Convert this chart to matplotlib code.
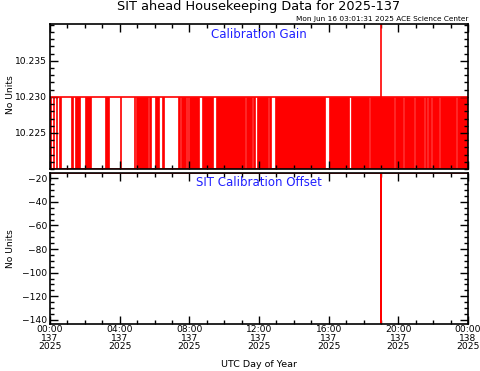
import matplotlib
matplotlib.use("Agg")
import matplotlib.pyplot as plt
from matplotlib.ticker import MultipleLocator

plt.rcParams['font.family'] = ['DejaVu Sans']

# gain toggles between these two levels inside the red spans (hours UTC)
gain_hi = 10.230
gain_lo = 10.220
red_spans = [
    (0.00, 0.06), (0.17, 0.23), (0.34, 0.40), (0.52, 0.61), (1.22, 1.32),
    (1.42, 1.71), (1.99, 2.34), (3.18, 3.37), (4.00, 4.09), (4.82, 4.90),
    (4.96, 5.63), (5.67, 5.82), (6.01, 6.26), (6.45, 6.56), (7.37, 7.46),
    (7.52, 7.79), (7.85, 7.94), (8.00, 8.57), (8.71, 9.38), (9.51, 11.20),
    (11.24, 11.58), (11.64, 11.77), (11.87, 12.51), (12.59, 12.71),
    (12.90, 15.81), (16.00, 17.19), (17.30, 18.34), (18.40, 19.77),
    (19.82, 20.25), (20.30, 20.92), (20.97, 21.49), (21.54, 21.64),
    (21.69, 21.87), (21.92, 22.36), (22.41, 23.31), (23.36, 24.00),
]
spike_time = 18.98
spike_gain = 10.30
offset_level = -15.5
spike_offset = -200.0

tick_hours = [0, 4, 8, 12, 16, 20, 24]
tick_labels = ["00:00\n137\n2025", "04:00\n137\n2025", "08:00\n137\n2025",
               "12:00\n137\n2025", "16:00\n137\n2025", "20:00\n137\n2025",
               "00:00\n138\n2025"]

fig = plt.figure(figsize=(4.81, 3.71), dpi=100)
ax1 = fig.add_axes([0.104, 0.5445, 0.869, 0.3905])
ax2 = fig.add_axes([0.104, 0.1267, 0.869, 0.407])

red = '#ff0000'

# top panel: calibration gain
for s, e in red_spans:
    ax1.bar(s, gain_hi - gain_lo, width=e - s, bottom=gain_lo, align='edge',
            color=red, edgecolor=red, linewidth=0.5)
ax1.plot([0, 24], [gain_hi, gain_hi], color=red, lw=1.2)
ax1.plot([0, 24], [gain_lo, gain_lo], color=red, lw=1.2)
ax1.plot([spike_time, spike_time], [gain_hi, spike_gain], color=red, lw=1.2)
ax1.set_ylim(10.220, 10.2401)
ax1.yaxis.set_minor_locator(MultipleLocator(0.001))
ax1.set_yticks([10.225, 10.230, 10.235])
ax1.yaxis.set_major_formatter(plt.FormatStrFormatter('%.3f'))
ax1.text(0.5, 0.93, "Calibration Gain", transform=ax1.transAxes,
         ha='center', va='center', color='#2020ff', fontsize=8.5)

# bottom panel: calibration offset
ax2.plot([0, spike_time, spike_time, spike_time, 24],
         [offset_level, offset_level, spike_offset, offset_level, offset_level],
         color=red, lw=1.2)
ax2.set_ylim(-143.5, -15.5)
ax2.yaxis.set_major_locator(MultipleLocator(20))
ax2.yaxis.set_minor_locator(MultipleLocator(5))
ax2.text(0.5, 0.935, "SIT Calibration Offset", transform=ax2.transAxes,
         ha='center', va='center', color='#2020ff', fontsize=8.5)

for ax in (ax1, ax2):
    ax.set_xlim(0, 24)
    ax.set_xticks(tick_hours)
    ax.xaxis.set_minor_locator(MultipleLocator(1))
    ax.tick_params(which='both', direction='in', top=True, right=True,
                   labelsize=6.6, width=1.0)
    ax.tick_params(which='major', length=6)
    ax.tick_params(which='minor', length=3)
    ax.tick_params(axis='y', pad=2)
    for sp in ax.spines.values():
        sp.set_linewidth(1.2)

ax1.set_xticklabels([])
ax2.set_xticklabels(tick_labels, linespacing=0.9)
ax2.tick_params(axis='x', pad=1)

fig.text(0.021, 0.745, "No Units", rotation=90, ha='center', va='center',
         fontsize=6.6)
fig.text(0.021, 0.331, "No Units", rotation=90, ha='center', va='center',
         fontsize=6.6)
fig.text(0.538, 0.017, "UTC Day of Year", ha='center', va='center',
         fontsize=6.8)
fig.text(0.538, 0.982, "SIT ahead Housekeeping Data for 2025-137",
         ha='center', va='center', fontsize=9.3)
fig.text(0.973, 0.949, "Mon Jun 16 03:01:31 2025 ACE Science Center",
         ha='right', va='center', fontsize=5.3)

fig.savefig("out.png", dpi=100)
